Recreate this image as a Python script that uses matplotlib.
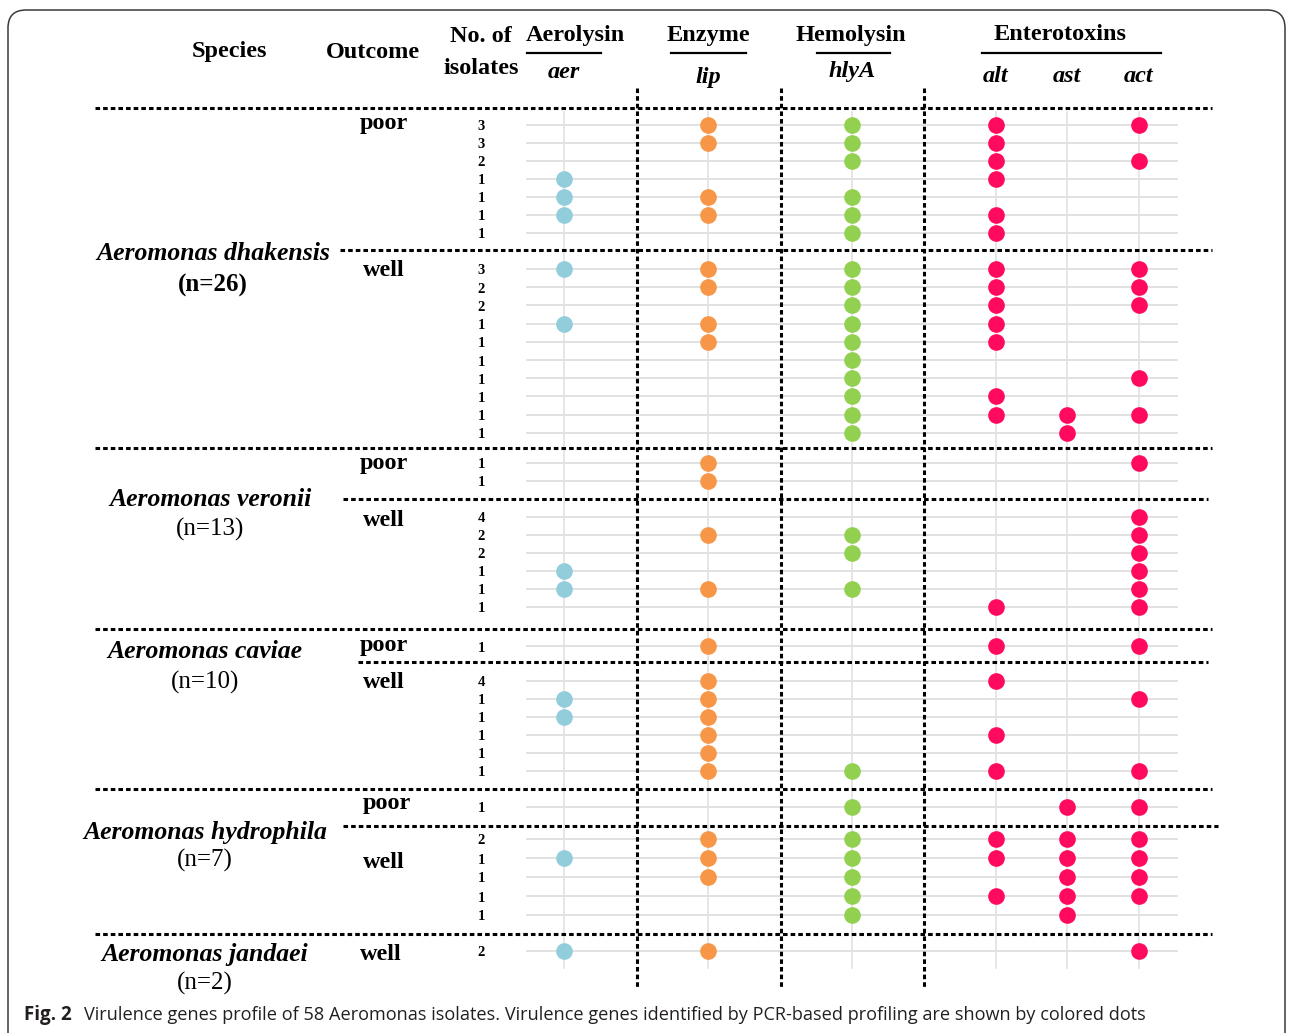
import matplotlib.pyplot as plt
from matplotlib.patches import FancyBboxPatch

# genes (columns) and their colours
genes = ['aer', 'lip', 'hlyA', 'alt', 'ast', 'act']
gene_colors = ['#92CDDC', '#F79646', '#92D050', '#FF0A5E', '#FF0A5E', '#FF0A5E']
categories = ['Aerolysin', 'Enzyme', 'Hemolysin', 'Enterotoxins']

species = ['Aeromonas dhakensis', 'Aeromonas veronii', 'Aeromonas caviae',
           'Aeromonas hydrophila', 'Aeromonas jandaei']
species_n = ['(n=26)', '(n=13)', '(n=10)', '(n=7)', '(n=2)']

# outcome groups, top to bottom
outcomes = ['poor', 'well', 'poor', 'well', 'poor', 'well', 'poor', 'well', 'well']

# number of isolates per profile row
dhak_poor_counts = [3, 3, 2, 1, 1, 1, 1]
dhak_well_counts = [3, 2, 2, 1, 1, 1, 1, 1, 1, 1]
ver_poor_counts = [1, 1]
ver_well_counts = [4, 2, 2, 1, 1, 1]
cav_poor_counts = [1]
cav_well_counts = [4, 1, 1, 1, 1, 1]
hyd_poor_counts = [1]
hyd_well_counts = [2, 1, 1, 1, 1]
jan_well_counts = [2]

# gene presence per row: aer, lip, hlyA, alt, ast, act
dhak_poor_genes = [[0, 1, 1, 1, 0, 1],
                   [0, 1, 1, 1, 0, 0],
                   [0, 0, 1, 1, 0, 1],
                   [1, 0, 0, 1, 0, 0],
                   [1, 1, 1, 0, 0, 0],
                   [1, 1, 1, 1, 0, 0],
                   [0, 0, 1, 1, 0, 0]]
dhak_well_genes = [[1, 1, 1, 1, 0, 1],
                   [0, 1, 1, 1, 0, 1],
                   [0, 0, 1, 1, 0, 1],
                   [1, 1, 1, 1, 0, 0],
                   [0, 1, 1, 1, 0, 0],
                   [0, 0, 1, 0, 0, 0],
                   [0, 0, 1, 0, 0, 1],
                   [0, 0, 1, 1, 0, 0],
                   [0, 0, 1, 1, 1, 1],
                   [0, 0, 1, 0, 1, 0]]
ver_poor_genes = [[0, 1, 0, 0, 0, 1],
                  [0, 1, 0, 0, 0, 0]]
ver_well_genes = [[0, 0, 0, 0, 0, 1],
                  [0, 1, 1, 0, 0, 1],
                  [0, 0, 1, 0, 0, 1],
                  [1, 0, 0, 0, 0, 1],
                  [1, 1, 1, 0, 0, 1],
                  [0, 0, 0, 1, 0, 1]]
cav_poor_genes = [[0, 1, 0, 1, 0, 1]]
cav_well_genes = [[0, 1, 0, 1, 0, 0],
                  [1, 1, 0, 0, 0, 1],
                  [1, 1, 0, 0, 0, 0],
                  [0, 1, 0, 1, 0, 0],
                  [0, 1, 0, 0, 0, 0],
                  [0, 1, 1, 1, 0, 1]]
hyd_poor_genes = [[0, 0, 1, 0, 1, 1]]
hyd_well_genes = [[0, 1, 1, 1, 1, 1],
                  [1, 1, 1, 1, 1, 1],
                  [0, 1, 1, 0, 1, 1],
                  [0, 0, 1, 1, 1, 1],
                  [0, 0, 1, 0, 1, 0]]
jan_well_genes = [[1, 1, 0, 0, 0, 1]]

group_counts = [dhak_poor_counts, dhak_well_counts, ver_poor_counts, ver_well_counts,
                cav_poor_counts, cav_well_counts, hyd_poor_counts, hyd_well_counts,
                jan_well_counts]
group_genes = [dhak_poor_genes, dhak_well_genes, ver_poor_genes, ver_well_genes,
               cav_poor_genes, cav_well_genes, hyd_poor_genes, hyd_well_genes,
               jan_well_genes]

# ---- layout (pixel units of the figure) ----
W, H = 1289, 1033
gene_x = [564, 708, 852, 996, 1067, 1139]
count_x = 481
group_top = [125, 269, 463, 517, 646, 681, 807, 839, 951]
group_step = [18, 18.2, 18, 18, 18, 18, 18, 19, 18]
outcome_pos = [(384, 124), (384, 270), (384, 463), (384, 520), (384, 646),
               (384, 683), (387, 804), (384, 863), (381, 954)]
species_pos = [(213, 254, 285), (210, 499, 529), (205, 652, 682),
               (205, 832, 860), (205, 954, 983)]
full_sep = [108, 448, 629, 789, 934]
part_sep = [(250, 340, 1212), (499, 343, 1208), (662, 358, 1208), (826, 343, 1218)]
col_sep = [637, 781, 924]

serif = 'Liberation Serif'
dot = (0, (1.5, 1.0))

fig = plt.figure(figsize=(W / 100, H / 100), dpi=100)
ax = fig.add_axes([0, 0, 1, 1])
ax.set_xlim(0, W)
ax.set_ylim(H, 0)
ax.axis('off')

# frame
frame = FancyBboxPatch((8, 10), 1277, 1060, boxstyle='round,pad=0,rounding_size=18',
                       fc='none', ec='#3a3a3a', lw=1.1)
ax.add_patch(frame)

# grid lines and dots
for g in range(len(group_counts)):
    for i, c in enumerate(group_counts[g]):
        y = group_top[g] + i * group_step[g]
        ax.plot([527, 1177], [y, y], color='#dcdcdc', lw=1.2, zorder=1)
        ax.text(count_x, y + 2, str(c), fontsize=10.5, family=serif, weight='bold',
                ha='center', va='center')
        for j, present in enumerate(group_genes[g][i]):
            if present:
                ax.plot(gene_x[j], y, 'o', ms=12, color=gene_colors[j], mec='none', zorder=3)

for x in gene_x:
    ax.plot([x, x], [112, 968], color='#e2e2e2', lw=1.2, zorder=1)

# dotted separators
for y in full_sep:
    ax.plot([95, 1212], [y, y], color='black', lw=2.2, ls=dot, zorder=2)
for y, x0, x1 in part_sep:
    ax.plot([x0, x1], [y, y], color='black', lw=2.2, ls=dot, zorder=2)
for x in col_sep:
    ax.plot([x, x], [88, 987], color='black', lw=2.2, ls=dot, zorder=2)

# row labels
for name, (x, y) in zip(outcomes, outcome_pos):
    ax.text(x, y, name, fontsize=17.5, family=serif, weight='bold', ha='center', va='center')
for k, (x, y1, y2) in enumerate(species_pos):
    ax.text(x, y1, species[k], fontsize=18.5, family=serif, weight='bold', style='italic',
            ha='center', va='center')
    ax.text(x, y2, species_n[k], fontsize=18, family=serif,
            weight='bold' if k == 0 else 'normal', ha='center', va='center')

# header
hdr = dict(fontsize=17.5, family=serif, weight='bold', ha='center', va='center')
ax.text(229, 52, 'Species', **hdr)
ax.text(373, 52, 'Outcome', **hdr)
ax.text(481, 37, 'No. of', **hdr)
ax.text(481, 68, 'isolates', **hdr)
cat_x = [575, 708, 851, 1060]
cat_line = [(527, 601), (671, 746), (817, 890), (982, 1161)]
for name, x, (l0, l1) in zip(categories, cat_x, cat_line):
    ax.text(x, 35, name, **hdr)
    ax.plot([l0, l1], [53, 53], color='black', lw=1.6)
gene_label_y = [73, 77, 72, 76, 76, 76]
for name, x, y in zip(genes, gene_x, gene_label_y):
    ax.text(x, y, name, fontsize=17.5, family=serif, weight='bold', style='italic',
            ha='center', va='center')

# caption
ax.text(24, 1015, 'Fig. 2', fontsize=13.5, family='Open Sans', weight='bold',
        ha='left', va='center', color='#231f20')
ax.text(84, 1015, 'Virulence genes profile of 58 Aeromonas isolates. Virulence genes identified '
        'by PCR-based profiling are shown by colored dots', fontsize=13.1,
        family='Open Sans', ha='left', va='center', color='#231f20')

fig.savefig('out.png', dpi=100)
